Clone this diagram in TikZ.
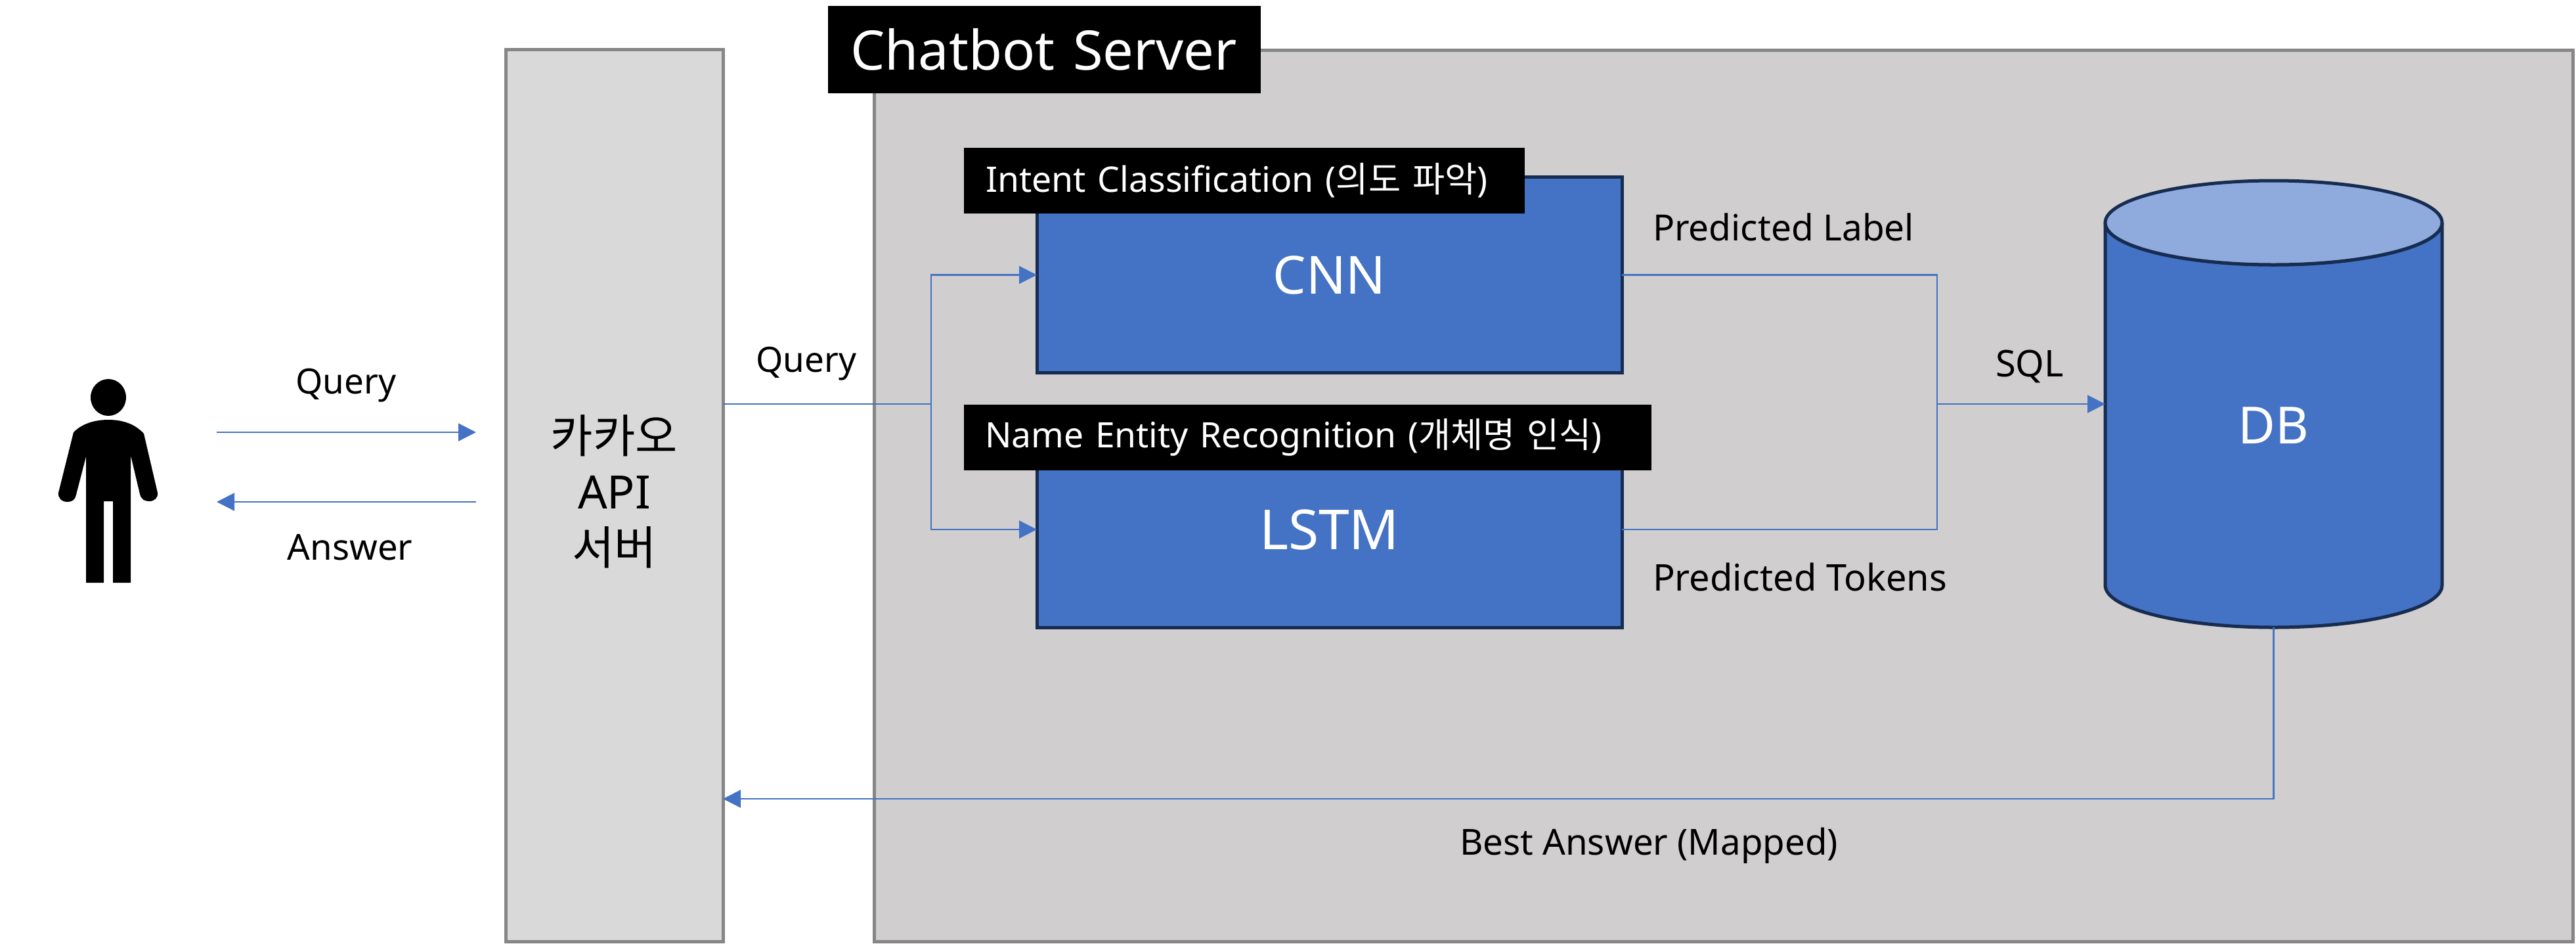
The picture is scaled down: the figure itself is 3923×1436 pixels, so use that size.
\documentclass[tikz,border=0pt]{standalone}
\usepackage{fontspec}
\setmainfont{Noto Sans}
\newfontfamily\kr{Noto Sans CJK KR}
\usetikzlibrary{arrows.meta}
\definecolor{blueA}{HTML}{4472C4}
\definecolor{blueD}{HTML}{172C51}
\definecolor{blueL}{HTML}{8FAADC}
\definecolor{edgeG}{HTML}{868686}
\definecolor{panelA}{HTML}{D9D9D9}
\definecolor{panelB}{HTML}{D0CECE}
\newcommand{\fs}[1]{\fontsize{#1}{#1}\selectfont}
\tikzset{
  panel/.style={draw=edgeG,line width=5pt,inner sep=0pt,outer sep=0pt,align=center},
  model/.style={draw=blueD,fill=blueA,line width=5pt,inner sep=0pt,outer sep=0pt,text=white,font=\fs{84}},
  tag/.style={fill=black,text=white,inner ysep=0pt,inner xsep=32pt,outer sep=0pt,align=left},
  lbl/.style={inner sep=0pt,outer sep=0pt,font=\fs{55},text=black},
  wire/.style={draw=blueA,line width=2.2pt},
  arw/.style={wire,-{Triangle[length=27pt,width=27pt]}}
}
\begin{document}
\begin{tikzpicture}[x=1pt,y=-1pt]
\useasboundingbox (0,0) rectangle (3923,1436);
% panels
\node[panel,fill=panelA,minimum width=331pt,minimum height=1358pt] (kakao) at (935.5,754) {};
\node[inner sep=0pt,align=center,font=\fontsize{70}{85}\selectfont,text=black] (kakaotext) at (935.5,748) {{\kr 카카오}\\API\\{\kr 서버}};
\node[panel,fill=panelB,minimum width=2587pt,minimum height=1357pt] (server) at (2624.5,754.5) {};
\node[tag,inner xsep=34pt,text width=591pt,minimum height=133pt,font=\fs{83}] (servertag) at (1590.5,75.5) {\raisebox{2pt}{Chatbot Server}};
% models
\node[model,minimum width=891pt,minimum height=298pt,font=\fs{80}] (cnn) at (2024.5,418.5) {CNN};
\node[model,minimum width=891pt,minimum height=298pt] (lstm) at (2024.5,806) {LSTM};
\node[tag,inner xsep=33pt,text width=788pt,minimum height=100pt,font=\fs{53.5}] (cnntag) at (1895,275) {Intent Classification ({\kr 의도 파악})};
\node[tag,text width=983pt,minimum height=100pt,font=\fs{53.3}] (lstmtag) at (1991.5,666) {\raisebox{-4pt}{Name Entity Recognition ({\kr 개체명 인식})}};
% database
\node[inner sep=0pt,outer sep=0pt,minimum width=513pt,minimum height=680pt] (db) at (3462.5,615) {};
\draw[draw=blueD,fill=blueA,line width=5pt] (3206,339) -- (3206,891) arc[start angle=180,end angle=360,x radius=256.5pt,y radius=64pt] -- (3719,339) arc[start angle=0,end angle=-180,x radius=256.5pt,y radius=64pt] -- cycle;
\draw[draw=blueD,fill=blueL,line width=5pt] (3462.5,339) ellipse[x radius=256.5pt,y radius=64pt];
\node[inner sep=0pt,text=white,font=\fs{78}] (dblabel) at (3462.5,648) {DB};
% person
\fill[black] (165,605) ellipse[x radius=27pt,y radius=28pt];
\fill[black] (165,639) .. controls (142,639) and (124,646) .. (112,658)
  -- (89,750) .. controls (88,758) and (94,764) .. (103,764)
  .. controls (110,764) and (115,760) .. (116,753)
  -- (131,695) -- (131,887) -- (158,887) -- (158,763) -- (172,763) -- (172,887) -- (199,887) -- (199,693)
  -- (213,752) .. controls (215,760) and (220,763) .. (227,763)
  .. controls (235,763) and (241,758) .. (240,750)
  -- (219,660) .. controls (206,646) and (188,639) .. (165,639) -- cycle;
% connectors
\coordinate (pr) at (330,658);
\coordinate (ps) at (725,658);
\coordinate (ar) at (725,764);
\coordinate (as) at (330,764);
\coordinate (qj) at (1418,615);
\coordinate (rj) at (2950,615);
\coordinate (bk) at (3462,1216);
\draw[arw] (pr) -- (ps);
\draw[arw] (ar) -- (as);
\draw[wire] (kakao.east |- qj) -- (qj);
\draw[arw] (qj) |- (cnn.west);
\draw[arw] (qj) |- (lstm.west);
\draw[wire] (cnn.east) -| (rj);
\draw[wire] (lstm.east) -| (rj);
\draw[arw] (rj) -- (db.west);
\draw[arw] (db.south) |- (kakao.east |- bk);
% labels
\node[lbl,font=\fs{53}] (l1) at (527,587) {Query};
\node[lbl,font=\fs{54.5}] (l2) at (533,833) {Answer};
\node[lbl,font=\fs{53}] (l3) at (1228,554) {Query};
\node[lbl] (l4) at (2716,346) {Predicted Label};
\node[lbl,font=\fs{56}] (l5) at (2741,878) {Predicted Tokens};
\node[lbl,font=\fs{56}] (l6) at (3091,558) {SQL};
\node[lbl,font=\fs{54.6}] (l7) at (2511,1287) {Best Answer (Mapped)};
\end{tikzpicture}
\end{document}
